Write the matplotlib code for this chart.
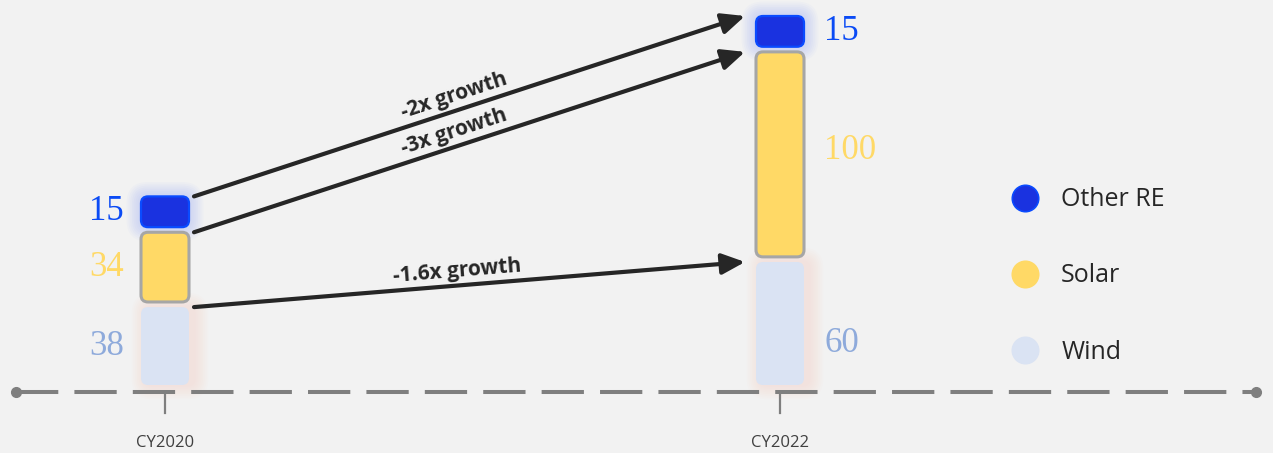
import matplotlib.pyplot as plt
from matplotlib.patches import FancyBboxPatch, FancyArrowPatch
from matplotlib.lines import Line2D
import numpy as np

# data
years = ["CY2020", "CY2022"]
series = ["Wind", "Solar", "Other RE"]
wind = [38, 60]
solar = [34, 100]
other = [15, 15]
growth = ["-1.6x growth", "-3x growth", "-2x growth"]   # wind, solar, other

BG = "#f2f2f2"
fills = ["#dae3f3", "#ffd966", "#1a32e0"]
edges = ["none", "#a6a6a6", "#0a4bff"]
legend_edges = ["#dae3f3", "#ffd966", "#0a4bff"]
edge_w = [0, 2.2, 1.6]
label_cols = ["#8eaadb", "#ffd966", "#0b4bf5"]
SERIF = "Liberation Serif"
SANS = "Open Sans"

# layout (pixel scale helpers)
PX_X = 615.0      # px per category step
PX_Y = 2.05       # px per unit
GAP = 2.5
W = 48 / PX_X

fig = plt.figure(figsize=(12.73, 4.53), dpi=100)
fig.patch.set_facecolor(BG)
ax = fig.add_axes([0, 0, 1, 1])
ax.set_facecolor(BG)
ax.axis("off")
ax.set_xlim(-165 / PX_X, (1273 - 165) / PX_X)
ax.set_ylim(-(453 - 385) / PX_Y, 385 / PX_Y)
aspect = PX_X / PX_Y

xs = np.arange(len(years))
values = [wind, solar, other]
tops = {}

def rbox(x0, y0, w, h, pad=0.0, rs=7, **kw):
    p = FancyBboxPatch((x0, y0), w, h,
                       boxstyle=f"round,pad={pad},rounding_size={rs / PX_X}",
                       mutation_aspect=aspect, **kw)
    ax.add_patch(p)
    return p

for j, x in enumerate(xs):
    bottom = 0
    for i, vals in enumerate(values):
        h = vals[j]
        if i == 0:
            # soft reddish shadow on wind
            for k in range(8):
                rbox(x - W / 2 + 5 / PX_X, bottom, W, h, pad=(k + 1) * 1.8 / PX_X,
                     rs=7 + (k + 1) * 1.8, fc="#f4b6a8", ec="none",
                     alpha=0.03, zorder=1)
        if i == 2:
            # blue glow on other RE
            for k in range(8):
                rbox(x - W / 2, bottom, W, h, pad=(k + 1) * 1.8 / PX_X,
                     rs=7 + (k + 1) * 1.8, fc="#6f8cff", ec="none",
                     alpha=0.035, zorder=1)
        rbox(x - W / 2, bottom, W, h, fc=fills[i], ec=edges[i],
             lw=edge_w[i], zorder=3)
        tops[(i, j)] = bottom + h
        # value label
        cy = bottom + h / 2 if i > 0 else min(bottom + h / 2, 20)
        if j == 0:
            ax.text(x - 41 / PX_X, cy, str(h), ha="right", va="center",
                    fontsize=25, family=SERIF, color=label_cols[i], zorder=4)
        else:
            ax.text(x + 44 / PX_X, cy + (2 if i == 1 else 0), str(h),
                    ha="left", va="center",
                    fontsize=25, family=SERIF, color=label_cols[i], zorder=4)
        bottom += h + GAP

# growth arrows
fig.canvas.draw()
for i in range(len(series)):
    p0 = (xs[0] + W / 2 + 5 / PX_X, tops[(i, 0)])
    p1 = (xs[1] - W / 2 - 11 / PX_X, tops[(i, 1)])
    arr = FancyArrowPatch(p0, p1, arrowstyle="-|>,head_length=1.0,head_width=0.45",
                          mutation_scale=14, lw=3, color="#262626",
                          shrinkA=0, shrinkB=0, zorder=5)
    ax.add_patch(arr)
    s0 = ax.transData.transform(p0)
    s1 = ax.transData.transform(p1)
    ang = np.degrees(np.arctan2(s1[1] - s0[1], s1[0] - s0[0]))
    t = 0.48
    mx = p0[0] + t * (p1[0] - p0[0])
    my = p0[1] + t * (p1[1] - p0[1])
    nx, ny = -np.sin(np.radians(ang)), np.cos(np.radians(ang))
    ax.annotate(growth[i], (mx, my), xytext=(nx * 3, ny * 3),
                textcoords="offset points", rotation=ang,
                rotation_mode="anchor", ha="center", va="bottom",
                fontsize=15, fontweight="bold", family=SANS,
                color="#262626", zorder=6)

# dashed baseline axis
y_ax = -7 / PX_Y
x_l = (16 - 165) / PX_X
x_r = (1256 - 165) / PX_X
ax.plot([x_l, x_r], [y_ax, y_ax], color="#7f7f7f", lw=2.9,
        dashes=(10.5, 4), solid_capstyle="butt", zorder=2)
ax.plot([x_l, x_r], [y_ax, y_ax], ls="none", marker="o", ms=7,
        color="#7f7f7f", zorder=2)
for j, x in enumerate(xs):
    ax.plot([x, x], [y_ax, y_ax - 21 / PX_Y], color="#7f7f7f", lw=1.6, zorder=2)
    ax.text(x, -58 / PX_Y, years[j], ha="center", va="center",
            fontsize=12, family=SANS, color="#404040")

# legend
handles = [Line2D([], [], ls="none", marker="o", ms=19,
                  mfc=fills[i], mec=legend_edges[i],
                  mew=1.2, label=series[i]) for i in (2, 1, 0)]
leg = ax.legend(handles=handles, loc="center left",
                bbox_to_anchor=(1000 / 1273, 1 - 276 / 453),
                frameon=False, labelspacing=2.05, handlelength=1.0,
                handletextpad=0.95, borderpad=0,
                prop={"family": SANS, "size": 18})
for txt in leg.get_texts():
    txt.set_color("#262626")

fig.savefig("out.png", dpi=100, facecolor=BG)
